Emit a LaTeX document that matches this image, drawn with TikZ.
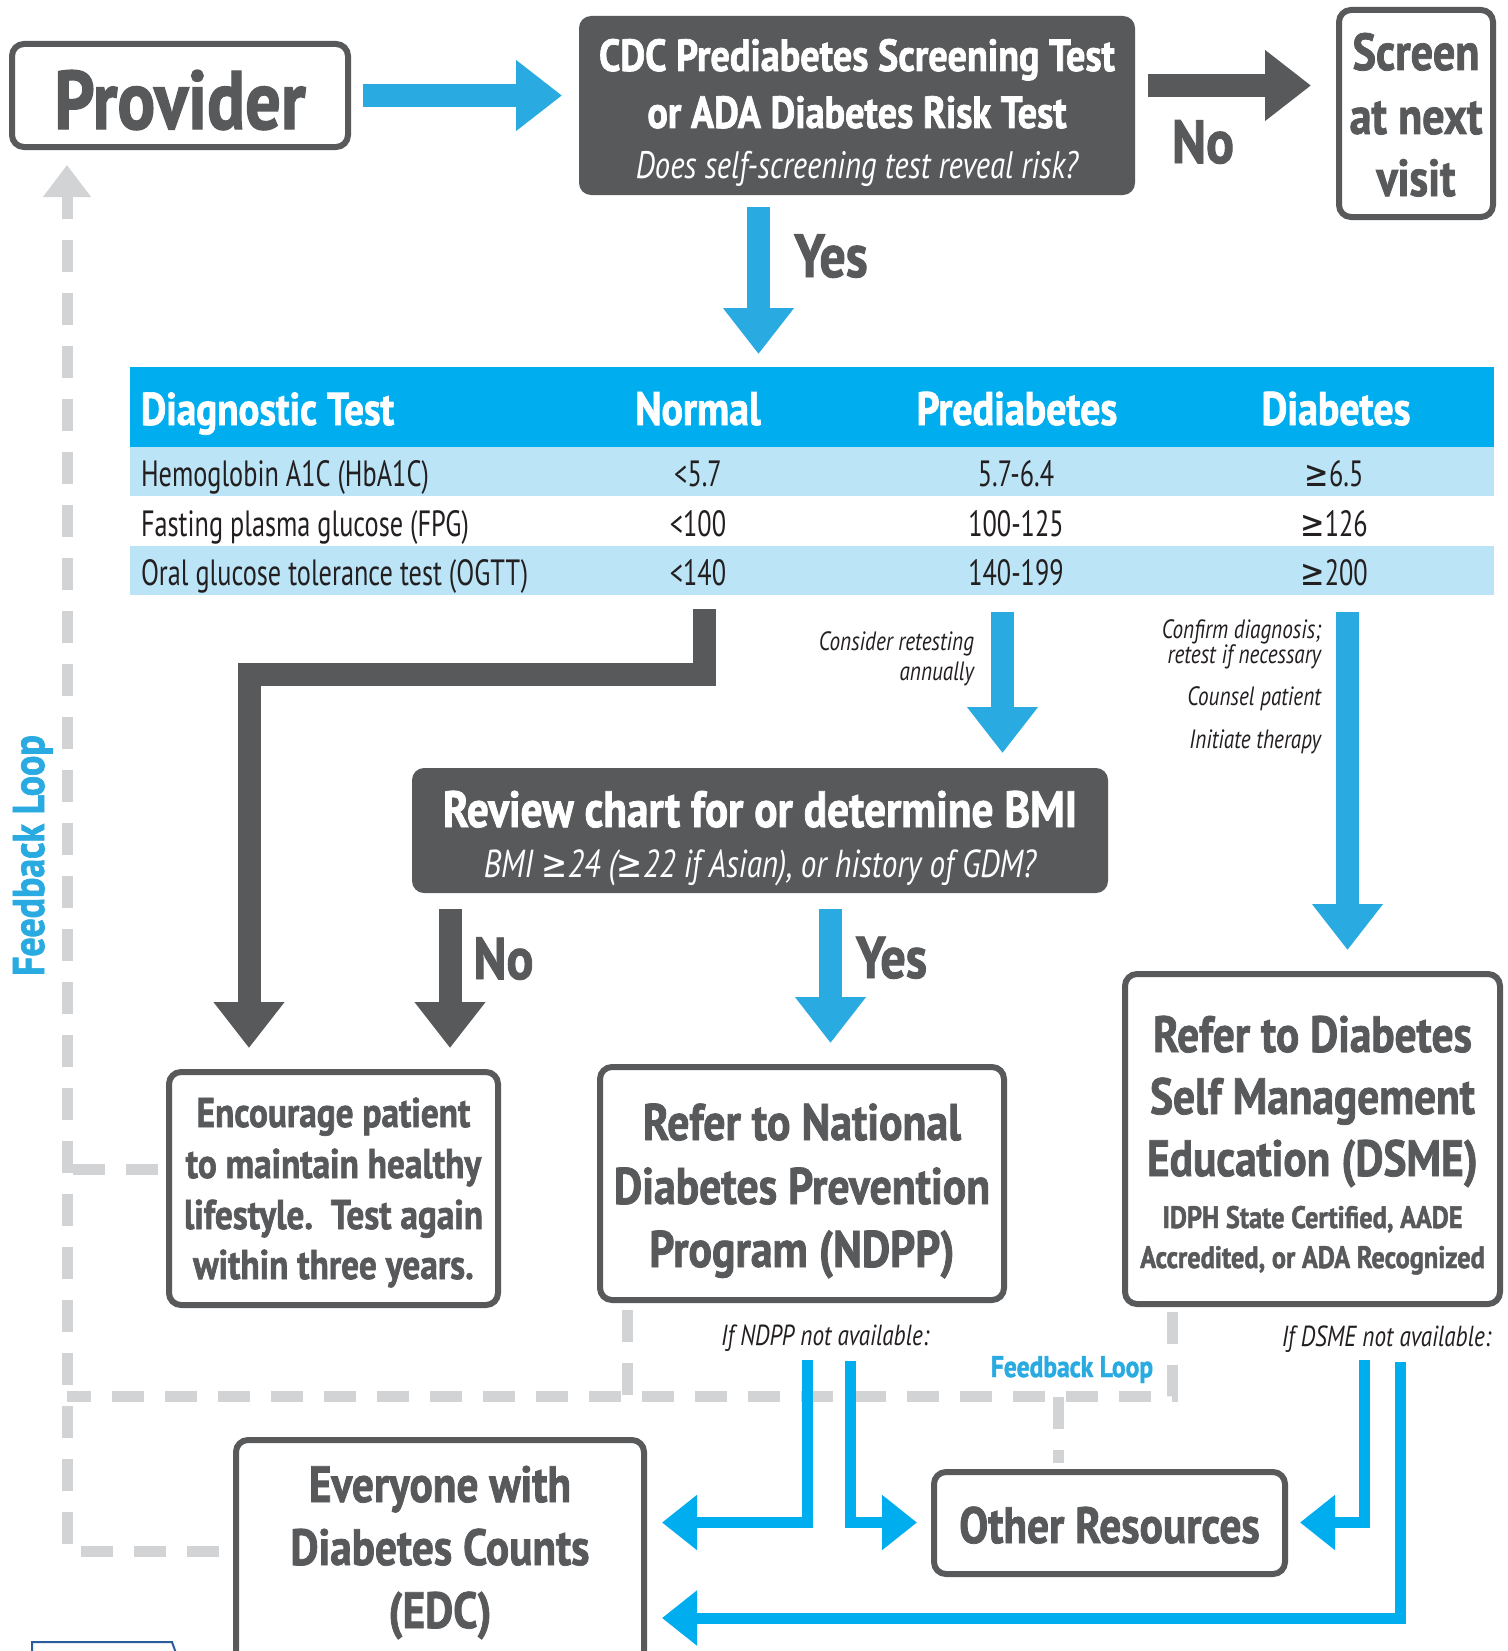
\documentclass[tikz,border=0pt]{standalone}
\usepackage{fontspec}
\setmainfont{PT Sans}[FakeStretch=0.72]
\newfontfamily\fB{PT Sans}[FakeStretch=0.85, BoldFeatures={FakeBold=1.5}]
\newfontfamily\fI{PT Sans}[FakeStretch=0.8]
\newfontfamily\symf{DejaVu Sans}[FakeStretch=0.8]
\usetikzlibrary{arrows.meta,calc}
\definecolor{dgray}{HTML}{58595B}
\definecolor{ablue}{HTML}{29ABE2}
\definecolor{bblue}{HTML}{00AEEF}
\definecolor{lblue}{HTML}{BBE4F6}
\definecolor{fgray}{HTML}{D1D3D4}
\definecolor{tblack}{HTML}{231F20}
\definecolor{iowa}{HTML}{2B5C9B}
\newcommand\fsz[1]{\fontsize{#1}{#1}\selectfont}
\newcommand\gesym{{\symf ≥}}
\begin{document}
\begin{tikzpicture}[x=1pt,y=-1pt,
  box/.style={draw=dgray, line width=6pt, rounded corners=12pt, fill=white, inner sep=0pt, outer sep=0pt},
  darkbox/.style={fill=dgray, rounded corners=12pt, inner sep=0pt, outer sep=0pt},
  trow/.style={minimum width=1364pt, inner sep=0pt, outer sep=0pt},
  fatgray/.style={draw=dgray, line width=23pt, line join=miter, -{Triangle[length=46pt,width=68pt]}},
  fatblue/.style={draw=ablue, line width=23pt, line join=miter, -{Triangle[length=46pt,width=68pt]}},
  thinblue/.style={draw=bblue, line width=11pt, line join=miter, -{Triangle[length=35pt,width=53pt]}},
  fb/.style={draw=fgray, line width=11pt, dash pattern=on 32pt off 21pt},
  t/.style={inner sep=0pt, outer sep=0pt, anchor=base},
  tr/.style={inner sep=0pt, outer sep=0pt, anchor=base east},
  tl/.style={inner sep=0pt, outer sep=0pt, anchor=base west},
  boxtxt/.style={t, text=dgray, font=\fB\bfseries\fsz{#1}},
  wtxt/.style={t, text=white, font=\fB\bfseries\fsz{#1}},
  cell/.style={t, text=tblack, font=\fsz{36.5}},
  lab/.style={tr, text=tblack, font=\fI\itshape\fsz{#1}},
]
\useasboundingbox (0,0) rectangle (1507,1651);
\clip (0,0) rectangle (1507,1651);
\fill[white] (0,0) rectangle (1507,1651);

% ---------- boxes ----------
\node[box, minimum width=336pt, minimum height=103pt] (prov) at (180,95.5) {};
\node[darkbox, minimum width=556pt, minimum height=179pt] (cdc) at (857,105.5) {};
\node[box, minimum width=154pt, minimum height=207pt] (screen) at (1416,113.5) {};

\node[trow, fill=bblue, minimum height=80pt] (thead) at (812,407) {};
\node[trow, fill=lblue, minimum height=49pt] (row1) at (812,471.5) {};
\node[trow, fill=white, minimum height=50pt] (row2) at (812,521) {};
\node[trow, fill=lblue, minimum height=49pt] (row3) at (812,570.5) {};

\node[darkbox, minimum width=696pt, minimum height=125pt] (bmi) at (760,830.5) {};

% ---------- feedback loop (dashed) ----------
\coordinate (fL) at (67,1551);
\coordinate (fH) at (67,1396.5);
\coordinate (fR) at (1172,1396.5);
\coordinate (fN) at (627,1396.5);
\coordinate (fO) at (1058,1396.5);
\coordinate (fE) at (67,1169);

\node[box, minimum width=329pt, minimum height=233pt] (enc) at (333.5,1188.5) {};
\node[box, minimum width=404pt, minimum height=233pt] (ndpp) at (802,1183.5) {};
\node[box, minimum width=375pt, minimum height=330pt] (dsme) at (1312.5,1139) {};
\node[box, minimum width=408pt, minimum height=257pt] (edc) at (440,1568.5) {};
\node[box, minimum width=351pt, minimum height=102pt] (other) at (1109.5,1523) {};

\draw[fb, -{Triangle[length=32pt,width=46pt]}, shorten <=17pt, shorten >=18pt] (edc.west |- fL) -- (fL) -- (prov.south -| fL);
\draw[fb, shorten <=8pt] (dsme.south -| fR) |- (fH);
\draw[fb, shorten <=10pt] (ndpp.south -| fN) -- (fN);
\draw[fb, shorten >=9pt] (fO) -- (other.north -| fO);
\draw[fb, shorten <=11pt] (enc.west |- fE) -- (fE);

% ---------- big arrows ----------
\coordinate (yno) at (0,85.5);
\coordinate (xyes) at (758.5,0);
\coordinate (xN) at (704.5,0);
\coordinate (xL) at (249,674.5);
\coordinate (xP) at (1002.5,0);
\coordinate (xD) at (1347.5,0);
\coordinate (xNo) at (450,0);
\coordinate (xYes) at (830.5,0);

\draw[fatblue, shorten <=15pt, shorten >=17pt] (prov.east) -- (prov.east -| cdc.west);
\draw[fatgray, shorten <=12.5pt, shorten >=28pt] (cdc.east |- yno) -- (screen.west |- yno);
\draw[fatblue, shorten <=12pt, shorten >=13pt] (cdc.south -| xyes) -- (thead.north -| xyes);
\draw[fatgray, shorten <=14pt, shorten >=24pt] (row3.south -| xN) |- (xL) -- (enc.north -| xL);
\draw[fatblue, shorten <=17pt, shorten >=15pt] (row3.south -| xP) -- (bmi.north -| xP);
\draw[fatblue, shorten <=17pt, shorten >=24pt] (row3.south -| xD) -- (dsme.north -| xD);
\draw[fatgray, shorten <=16pt, shorten >=24pt] (bmi.south -| xNo) -- (enc.north -| xNo);
\draw[fatblue, shorten <=16pt, shorten >=24pt] (bmi.south -| xYes) -- (ndpp.north -| xYes);

% ---------- thin blue arrows ----------
\coordinate (a1) at (807,1522.5);
\coordinate (a2) at (850,1522.5);
\coordinate (a3) at (1364,1522.5);
\coordinate (a4) at (1400,1618);
\draw[thinblue, shorten <=60pt, shorten >=18pt] (ndpp.south -| a1) |- (edc.east |- a1);
\draw[thinblue, shorten <=61pt, shorten >=17pt] (ndpp.south -| a2) |- (other.west |- a2);
\draw[thinblue, shorten <=56pt, shorten >=15pt] (dsme.south -| a3) |- (other.east |- a3);
\draw[thinblue, shorten <=58pt, shorten >=18pt] (dsme.south -| a4) |- (edc.east |- a4);

% ---------- texts ----------
\node[boxtxt=83] (provT) at (180,129) {Provider};
\node[wtxt=45] (cdc1) at (857,71) {CDC Prediabetes Screening Test};
\node[wtxt=45] (cdc2) at (857,128) {or ADA Diabetes Risk Test};
\node[t, text=white, font=\fI\itshape\fsz{38.3}] (cdc3) at (857,178) {Does self-screening test reveal risk?};
\node[boxtxt=52] (scr1) at (1416,70) {Screen};
\node[boxtxt=52] (scr2) at (1416,134) {at next};
\node[boxtxt=52] (scr3) at (1416,196) {visit};
\node[boxtxt=61] (noTop) at (1203,163) {No};
\node[boxtxt=61] (yesTop) at (831,277) {Yes};

\node[tl, text=white, font=\fB\bfseries\fsz{46}] (h1) at (141,425) {Diagnostic Test};
\node[wtxt=47] (h2) at (698,425) {Normal};
\node[wtxt=47] (h3) at (1017,425) {Prediabetes};
\node[wtxt=47] (h4) at (1336,425) {Diabetes};

\node[cell, anchor=base west] (r1a) at (141,486) {Hemoglobin A1C (HbA1C)};
\node[cell] (r1b) at (698,486) {<5.7};
\node[cell] (r1c) at (1016,486) {5.7-6.4};
\node[cell] (r1d) at (1334,486) {\gesym6.5};
\node[cell, anchor=base west] (r2a) at (141,536) {Fasting plasma glucose (FPG)};
\node[cell] (r2b) at (698,536) {<100};
\node[cell] (r2c) at (1016,536) {100-125};
\node[cell] (r2d) at (1334,536) {\gesym126};
\node[cell, anchor=base west] (r3a) at (141,585) {Oral glucose tolerance test (OGTT)};
\node[cell] (r3b) at (698,585) {<140};
\node[cell] (r3c) at (1016,585) {140-199};
\node[cell] (r3d) at (1334,585) {\gesym200};

\node[lab=26.5] (cons1) at (974,650) {Consider retesting};
\node[lab=26.5] (cons2) at (974,680) {annually};
\node[lab=26.5] (conf1) at (1321,638) {Confirm diagnosis;};
\node[lab=26.5] (conf2) at (1321,663) {retest if necessary};
\node[lab=26.5] (couns) at (1321,705) {Counsel patient};
\node[lab=26.5] (init) at (1321,748) {Initiate therapy};

\node[wtxt=51] (bmi1) at (760,827) {Review chart for or determine BMI};
\node[t, text=white, font=\fI\itshape\fsz{39}] (bmi2) at (760,877) {BMI \gesym24 (\gesym22 if Asian), or history of GDM?};

\node[boxtxt=59] (noMid) at (503.5,979) {No};
\node[boxtxt=59] (yesMid) at (891.5,978) {Yes};

\node[boxtxt=41.5] (enc1) at (333.5,1127) {Encourage patient};
\node[boxtxt=41.5] (enc2) at (333.5,1178) {to maintain healthy};
\node[boxtxt=41.5] (enc3) at (333.5,1229) {lifestyle.\ \ Test again};
\node[boxtxt=41.5] (enc4) at (333.5,1279) {within three years.};

\node[boxtxt=51.5] (nd1) at (802,1140) {Refer to National};
\node[boxtxt=51.5] (nd2) at (802,1204) {Diabetes Prevention};
\node[boxtxt=51.5] (nd3) at (802,1267) {Program (NDPP)};

\node[boxtxt=51] (ds1) at (1312.5,1052) {Refer to Diabetes};
\node[boxtxt=51] (ds2) at (1312.5,1114) {Self Management};
\node[boxtxt=51] (ds3) at (1312.5,1176) {Education (DSME)};
\node[boxtxt=31] (ds4) at (1312.5,1228) {IDPH State Certified, AADE};
\node[boxtxt=31] (ds5) at (1312.5,1268) {Accredited, or ADA Recognized};

\node[lab=29] (ifN) at (929,1345) {If NDPP not available:};
\node[lab=29] (ifD) at (1491,1346) {If DSME not available:};
\node[t, text=ablue, font=\fB\bfseries\fsz{30}] (fbS) at (1072,1377) {Feedback Loop};
\node[t, text=ablue, font=\fB\bfseries\fsz{44.5}, rotate=90] (fbV) at (44,855.5) {Feedback Loop};

\node[boxtxt=51] (edc1) at (440,1502) {Everyone with};
\node[boxtxt=51] (edc2) at (440,1565) {Diabetes Counts};
\node[boxtxt=51] (edc3) at (440,1628) {(EDC)};
\node[boxtxt=51] (oth) at (1109.5,1543) {Other Resources};

% partial outline at the bottom edge
\draw[iowa, line width=2pt] (32,1656) -- (32,1642) -- (172,1642) -- (177,1656);
\end{tikzpicture}
\end{document}
